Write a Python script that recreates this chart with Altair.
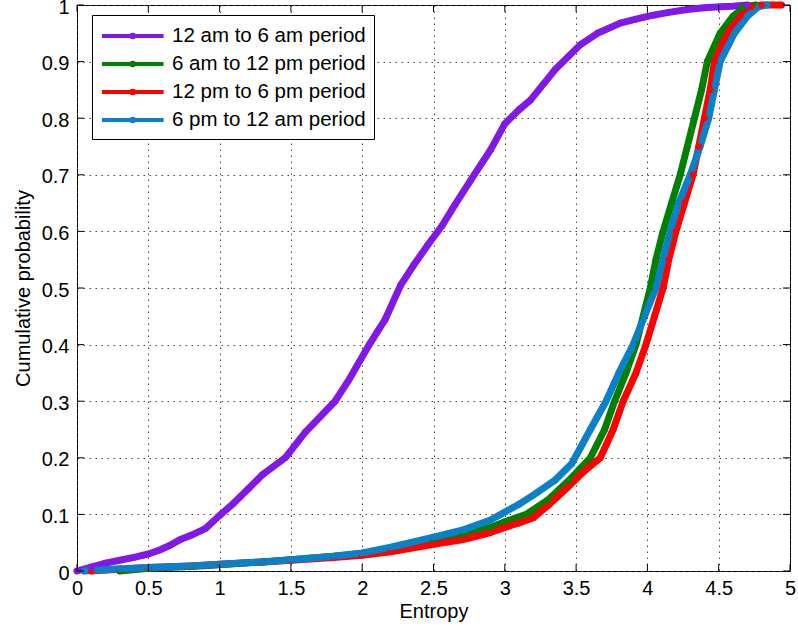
import altair as alt
import pandas as pd

# ---- data ----
names = ["12 am to 6 am period", "6 am to 12 pm period",
         "12 pm to 6 pm period", "6 pm to 12 am period"]
colors = ["#8019E6", "#008000", "#FF0000", "#0A80C8"]

purple_x = [0, 0.1, 0.2, 0.3, 0.4, 0.5, 0.58, 0.65, 0.72, 0.8, 0.9, 1.0, 1.1, 1.2, 1.3,
            1.46, 1.6, 1.81, 1.9, 2.05, 2.16, 2.27, 2.36, 2.46, 2.56, 2.65, 2.76, 2.9,
            3.0, 3.1, 3.18, 3.35, 3.53, 3.65, 3.81, 3.92, 4.04, 4.15, 4.28, 4.4, 4.51,
            4.6, 4.7]
purple_y = [0, 0.007, 0.014, 0.019, 0.024, 0.03, 0.037, 0.045, 0.055, 0.063, 0.075,
            0.098, 0.12, 0.145, 0.17, 0.2, 0.245, 0.3, 0.335, 0.4, 0.444, 0.505, 0.54,
            0.576, 0.61, 0.647, 0.69, 0.744, 0.79, 0.815, 0.832, 0.885, 0.93, 0.95,
            0.968, 0.975, 0.982, 0.987, 0.992, 0.995, 0.997, 0.998, 1.0]

green_x = [0.3, 0.5, 0.8, 1.0, 1.3, 1.5, 1.8, 2.0, 2.2, 2.5, 2.7, 2.9, 3.0, 3.15, 3.3,
           3.45, 3.6, 3.7, 3.77, 3.85, 3.92, 3.97, 4.02, 4.06, 4.11, 4.17, 4.23, 4.28,
           4.33, 4.38, 4.42, 4.51, 4.6, 4.68, 4.76]
green_y = [0.0, 0.005, 0.008, 0.011, 0.016, 0.02, 0.026, 0.031, 0.038, 0.053, 0.063,
           0.077, 0.087, 0.1, 0.125, 0.16, 0.2, 0.25, 0.3, 0.35, 0.4, 0.45, 0.5, 0.55,
           0.6, 0.65, 0.7, 0.75, 0.8, 0.85, 0.9, 0.95, 0.98, 0.997, 1.0]

red_x = [0.1, 0.3, 0.5, 0.8, 1.0, 1.3, 1.5, 1.8, 2.0, 2.2, 2.5, 2.7, 2.9, 3.0, 3.1, 3.2,
         3.3, 3.45, 3.55, 3.67, 3.76, 3.83, 3.92, 3.99, 4.05, 4.11, 4.15, 4.2, 4.26,
         4.32, 4.36, 4.4, 4.44, 4.47, 4.56, 4.65, 4.73, 4.8, 4.94]
red_y = [0.0, 0.003, 0.006, 0.009, 0.012, 0.016, 0.019, 0.024, 0.028, 0.034, 0.047,
         0.055, 0.068, 0.077, 0.085, 0.094, 0.115, 0.15, 0.175, 0.2, 0.25, 0.3, 0.35,
         0.4, 0.45, 0.5, 0.55, 0.6, 0.65, 0.7, 0.75, 0.8, 0.85, 0.9, 0.95, 0.98,
         0.997, 1.0, 1.0]

blue_x = [0.05, 0.3, 0.5, 0.8, 1.0, 1.3, 1.5, 1.8, 2.0, 2.2, 2.5, 2.7, 2.9, 3.0, 3.1,
          3.2, 3.35, 3.47, 3.6, 3.71, 3.8, 3.9, 3.98, 4.06, 4.11, 4.16, 4.22, 4.3, 4.37,
          4.43, 4.47, 4.51, 4.61, 4.7, 4.78, 4.84]
blue_y = [0.0, 0.004, 0.006, 0.009, 0.012, 0.016, 0.02, 0.026, 0.032, 0.042, 0.06, 0.072,
          0.09, 0.104, 0.118, 0.134, 0.16, 0.19, 0.25, 0.3, 0.35, 0.4, 0.45, 0.5, 0.55,
          0.6, 0.65, 0.7, 0.75, 0.8, 0.85, 0.9, 0.95, 0.98, 0.997, 1.0]

x_ticks = [0, 0.5, 1, 1.5, 2, 2.5, 3, 3.5, 4, 4.5, 5]
y_ticks = [0, 0.1, 0.2, 0.3, 0.4, 0.5, 0.6, 0.7, 0.8, 0.9, 1]

# ---- build tables ----
rows = []
for name, xs, ys in zip(names, [purple_x, green_x, red_x, blue_x],
                        [purple_y, green_y, red_y, blue_y]):
    for i, (xv, yv) in enumerate(zip(xs, ys)):
        rows.append({"series": name, "entropy": xv, "prob": yv, "i": i})
df = pd.DataFrame(rows)
xt = pd.DataFrame({"entropy": x_ticks})
yt = pd.DataFrame({"prob": y_ticks})

W, H = 713, 566
FONT = "Liberation Sans"
TL = 7

xscale = alt.Scale(domain=[0, 5], nice=False, zero=False)
yscale = alt.Scale(domain=[0, 1], nice=False, zero=False)
cscale = alt.Scale(domain=names, range=colors)

legend = alt.Legend(
    title=None, orient="none", legendX=15, legendY=10,
    symbolType="M-1,0H4.6M1.92,0A0.12,0.12,0,1,1,1.68,0A0.12,0.12,0,1,1,1.92,0",
    symbolSize=484, symbolStrokeWidth=4, symbolOpacity=1,
    labelFont=FONT, labelFontSize=20.5, labelColor="black", labelOffset=46,
    labelLimit=400, strokeColor="black", fillColor="white", padding=8,
    rowPadding=4, cornerRadius=0,
)

xaxis = alt.Axis(values=x_ticks, format="~f", ticks=False, domain=False, grid=True,
                 gridDash=[1.5, 4.5], gridColor="#444", gridWidth=1,
                 labelFont=FONT, labelFontSize=20, labelColor="black", labelPadding=7,
                 titleFont=FONT, titleFontSize=20, titleFontWeight="normal",
                 titleColor="black", titlePadding=3, labelFlush=False)
yaxis = alt.Axis(values=y_ticks, format="~f", ticks=False, domain=False, grid=True,
                 gridDash=[1.5, 4.5], gridColor="#444", gridWidth=1,
                 labelFont=FONT, labelFontSize=20, labelColor="black", labelPadding=8,
                 labelOffset=2,
                 titleFont=FONT, titleFontSize=20, titleFontWeight="normal",
                 titleColor="black", titlePadding=8, labelFlush=False)

base = alt.Chart(df).encode(
    x=alt.X("entropy:Q", scale=xscale, axis=xaxis, title="Entropy"),
    y=alt.Y("prob:Q", scale=yscale, axis=yaxis, title="Cumulative probability"),
    color=alt.Color("series:N", scale=cscale, legend=legend, sort=names),
    order="i:Q",
)
lines = base.mark_line(strokeWidth=7, strokeJoin="round", strokeCap="round")
dots = base.mark_circle(size=42, opacity=1)

tick_b = alt.Chart(xt).mark_rule(color="black", strokeWidth=1).encode(
    x=alt.X("entropy:Q", scale=xscale), y=alt.value(H), y2=alt.value(H - TL))
tick_t = alt.Chart(xt).mark_rule(color="black", strokeWidth=1).encode(
    x=alt.X("entropy:Q", scale=xscale), y=alt.value(0), y2=alt.value(TL))
tick_l = alt.Chart(yt).mark_rule(color="black", strokeWidth=1).encode(
    y=alt.Y("prob:Q", scale=yscale), x=alt.value(0), x2=alt.value(TL))
tick_r = alt.Chart(yt).mark_rule(color="black", strokeWidth=1).encode(
    y=alt.Y("prob:Q", scale=yscale), x=alt.value(W), x2=alt.value(W - TL))

chart = alt.layer(lines, dots, tick_b, tick_t, tick_l, tick_r).properties(
    width=W, height=H,
    autosize=alt.AutoSizeParams(type="none"),
    padding={"left": 77, "top": 5, "right": 8, "bottom": 60},
    background="white",
).configure_view(stroke="black", strokeWidth=1)

chart.save("out.html", embed_options={"renderer": "svg", "actions": False})
